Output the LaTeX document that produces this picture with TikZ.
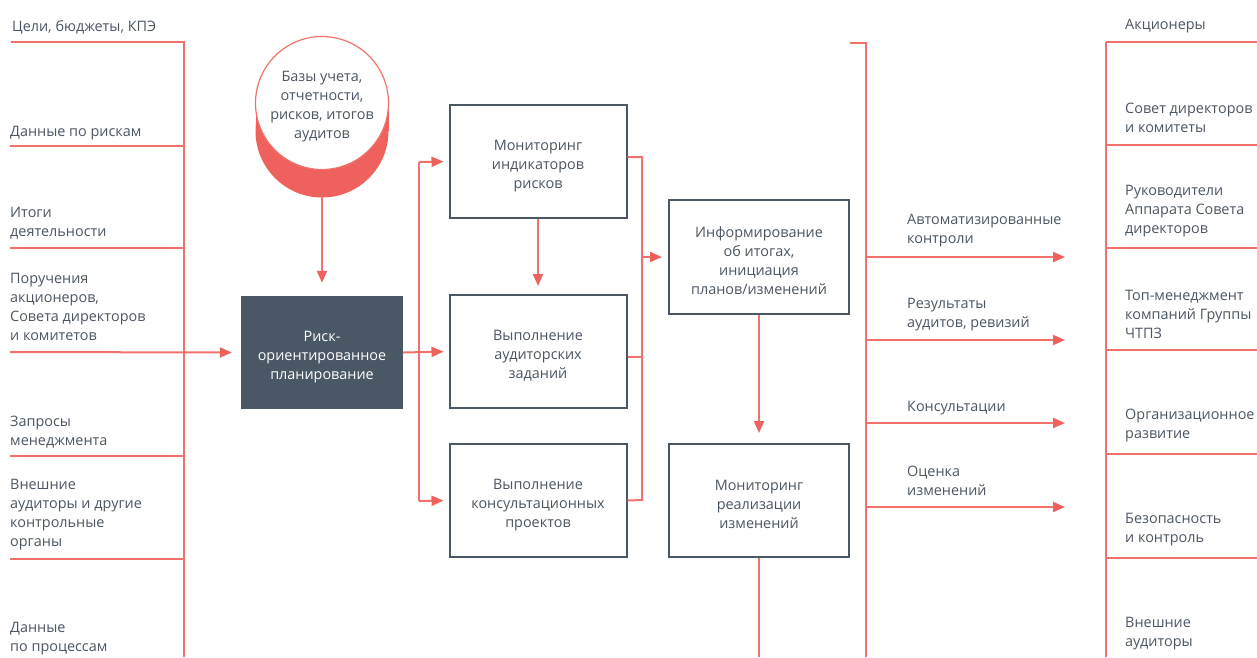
\documentclass[tikz,border=0pt]{standalone}
\usepackage{fontspec}
\setmainfont{Open Sans}
\usetikzlibrary{arrows.meta,calc}
\definecolor{redl}{HTML}{F2716B}
\definecolor{reda}{HTML}{EF615C}
\definecolor{slate}{HTML}{4A5764}
\definecolor{txt}{HTML}{4B5662}
\newcommand\myboxstrut{\rule{0pt}{18.5pt}}
\newcommand\mycircstrut{\rule{0pt}{16.5pt}}
\tikzset{
  lbl/.style={anchor=west, align=left, inner sep=0pt, text=txt, yshift=-2pt, font=\fontsize{14.4}{19}\selectfont},
  redline/.style={draw=redl, line width=2pt},
  arr/.style={draw=redl, line width=2pt, -{Triangle[length=12pt,width=10pt,color=reda]}},
  procbox/.style={draw=slate, line width=2pt, fill=white, minimum width=177pt, minimum height=113pt, align=center, inner sep=0pt, text=txt, font=\fontsize{14.4}{19}\selectfont},
  darkbox/.style={fill=slate, minimum width=162pt, minimum height=113pt, align=center, inner sep=0pt, text=white, font=\fontsize{14.4}{19}\selectfont}
}
\begin{document}
\begin{tikzpicture}[x=1pt,y=-1pt]
\useasboundingbox (0,0) rectangle (1257,657);
% ---------- left column ----------
\node[lbl] (l0) at (12,25) {Цели, бюджеты, КПЭ};
\node[lbl] (l1) at (10,131) {Данные по рискам};
\node[lbl] (l2) at (10,221) {Итоги\\деятельности};
\node[lbl] (l3) at (10,305) {Поручения\\акционеров,\\Совета директоров\\и комитетов};
\node[lbl] (l4) at (10,430) {Запросы\\менеджмента};
\node[lbl] (l5) at (10,512.5) {Внешние\\аудиторы и другие\\контрольные\\органы};
\node[lbl] (l6) at (10,636.5) {Данные\\по процессам};
\draw[redline] (11,42) -- (184,42) -- (184,657);
\foreach \y in {146,248,456,559} \draw[redline] (10,\y) -- (184,\y);
\coordinate (inL) at (10,352);
% ---------- cylinder ----------
\fill[reda] (322,131) circle (66.5);
\fill[reda] (255.5,103) rectangle (388.5,131);
\node[circle, draw=redl, line width=1.2pt, fill=white, minimum size=133pt, inner sep=0pt, align=center, text=txt, font=\fontsize{14.4}{19}\selectfont] (db) at (322,103) {\mycircstrut Базы учета,\\отчетности,\\рисков, итогов\\аудитов};
\coordinate (dbbot) at (322,197);
% ---------- boxes ----------
\node[darkbox] (plan) at (322,352.5) {\myboxstrut Риск-\\ориентированное\\планирование};
\node[procbox] (mon) at (538,161.5) {\myboxstrut Мониторинг\\индикаторов\\рисков};
\node[procbox] (aud) at (538,351.5) {\myboxstrut Выполнение\\аудиторских\\заданий};
\node[procbox] (cons) at (538,500.5) {\myboxstrut Выполнение\\консультационных\\проектов};
\node[procbox, minimum width=180pt, minimum height=114pt] (inf) at (759,257) {\myboxstrut Информирование\\об итогах,\\инициация\\планов/изменений};
\node[procbox, minimum width=180pt] (chg) at (759,500.5) {\myboxstrut Мониторинг\\реализации\\изменений};
% ---------- connectors ----------
\draw[arr, shorten >=9pt] (inL) -- (plan.west);
\draw[arr, shorten >=13pt] (dbbot) -- (plan.north);
\coordinate (b1t) at (419,162);
\coordinate (b1b) at (419,501);
\draw[redline] (b1t) -- (b1b);
\draw[arr, shorten >=5pt] (b1t) -- (mon.west);
\draw[arr, shorten >=5pt] (plan.east) -- (aud.west);
\draw[arr, shorten >=5pt] (b1b) -- (cons.west);
\draw[arr, shorten >=8pt] (mon.south) -- (aud.north);
\coordinate (b2t) at (642,157);
\coordinate (b2m) at (642,357);
\coordinate (b2b) at (642,500);
\draw[redline] ([yshift=4.5pt]mon.east) -- (b2t) -- (b2b) -- (cons.east);
\draw[redline] ([yshift=-5.5pt]aud.east) -- (b2m);
\coordinate (b2i) at (642,257);
\draw[arr, shorten >=6pt] (b2i) -- (inf.west);
\draw[arr, shorten >=10pt] (inf.south) -- (chg.north);
\coordinate (chgend) at (759,657);
\draw[redline] (chg.south) -- (chgend);
% ---------- outputs ----------
\draw[redline] (850,43) -- (866,43) -- (866,657);
\foreach \y/\n in {257/o1,340/o2,423/o3,507/o4}{
  \coordinate (\n s) at (866,\y);
  \coordinate (\n e) at (1065,\y);
  \draw[arr] (\n s) -- (\n e);
}
\node[lbl] (m1) at (907,229) {Автоматизированные\\контроли};
\node[lbl] (m2) at (907,312.5) {Результаты\\аудитов, ревизий};
\node[lbl] (m3) at (907,406) {Консультации};
\node[lbl] (m4) at (907,478.5) {Оценка\\изменений};
% ---------- right column ----------
\draw[redline] (1106,42) -- (1106,657);
\foreach \y in {42,145,248,350,454,558} \draw[redline] (1106,\y) -- (1257,\y);
\node[lbl] (r0) at (1125,24) {Акционеры};
\node[lbl] (r1) at (1125,116) {Совет директоров\\и комитеты};
\node[lbl] (r2) at (1125,209) {Руководители\\Аппарата Совета\\директоров};
\node[lbl] (r3) at (1125,312) {Топ-менеджмент\\компаний Группы\\ЧТПЗ};
\node[lbl] (r4) at (1125,423) {Организационное\\развитие};
\node[lbl] (r5) at (1125,527.5) {Безопасность\\и контроль};
\node[lbl] (r6) at (1125,632) {Внешние\\аудиторы};
\end{tikzpicture}
\end{document}
